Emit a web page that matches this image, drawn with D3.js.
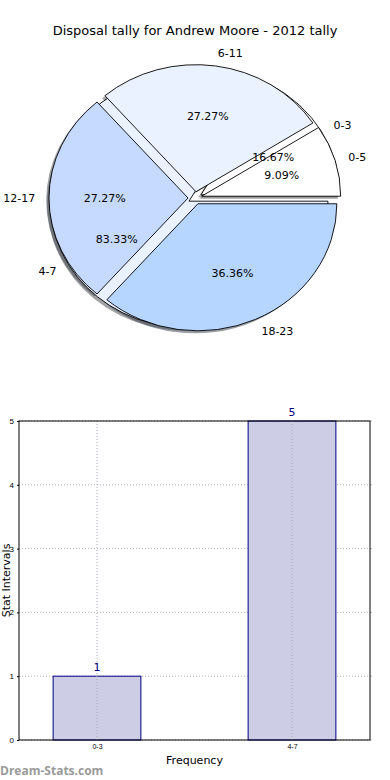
<!DOCTYPE html>
<html>
<head>
<meta charset="utf-8">
<script src="https://cdn.jsdelivr.net/npm/d3@7"></script>
<style>
  body { margin: 0; background: #fff; }
  svg { display: block; font-family: "DejaVu Sans", sans-serif; }
</style>
</head>
<body>
<svg id="chart" width="390" height="780"></svg>
<script>
// pie data (two pies drawn on top of each other, like the source)
const pieTitle = 'Disposal tally for Andrew Moore - 2012 tally';
const freqLabels = ['0-3', '4-7'];
const freqValues = [1, 5];
const freqColors = ['#ffffff', '#ebf2ff'];
const statLabels = ['0-5', '6-11', '12-17', '18-23'];
const statValues = [1, 3, 3, 4];
const statColors = ['#ffffff', '#ebf2ff', '#c6d9ff', '#b6d6ff'];

// bar data
const barCats = ['0-3', '4-7'];
const barValues = [1, 5];
const yTicks = [0, 1, 2, 3, 4, 5];

const svg = d3.select('#chart');

// ---------- pie ----------
const cx = 195, cy = 198, rx = 139, ry = 127;
const explode = 0.05;

svg.append('text')
  .attr('x', 195).attr('y', 35)
  .attr('text-anchor', 'middle')
  .style('font-size', '13px')
  .text(pieTitle);

// matplotlib starts at 3 o'clock and goes counter-clockwise
const pie = d3.pie().sort(null)
  .startAngle(Math.PI / 2)
  .endAngle(Math.PI / 2 - 2 * Math.PI);
const arc = d3.arc().innerRadius(0).outerRadius(1);

function midTheta(d) {
  // back to the math angle (radians, counter-clockwise from east)
  return Math.PI / 2 - (d.startAngle + d.endAngle) / 2;
}

function wedgeTransform(d, dx, dy) {
  const t = midTheta(d);
  return `translate(${cx + dx},${cy + dy}) scale(${rx},${ry}) translate(${explode * Math.cos(t)},${-explode * Math.sin(t)})`;
}

const pies = [
  { values: freqValues, labels: freqLabels, colors: freqColors },
  { values: statValues, labels: statLabels, colors: statColors }
];
pies.forEach(p => { p.arcs = pie(p.values); });

const gPie = svg.append('g');

// shadows sit below every wedge
pies.forEach(p => {
  gPie.selectAll(null)
    .data(p.arcs)
    .enter()
    .append('path')
    .attr('d', arc)
    .attr('transform', d => wedgeTransform(d, -0.02 * rx, 0.02 * ry))
    .attr('fill', (d, i) => {
      const c = d3.rgb(p.colors[i]);
      return d3.rgb(c.r * 0.3, c.g * 0.3, c.b * 0.3);
    })
    .attr('opacity', 0.5);
});

pies.forEach(p => {
  gPie.selectAll(null)
    .data(p.arcs)
    .enter()
    .append('path')
    .attr('d', arc)
    .attr('transform', d => wedgeTransform(d, 0, 0))
    .attr('fill', (d, i) => p.colors[i])
    .attr('stroke', '#000')
    .attr('stroke-width', 0.9)
    .attr('vector-effect', 'non-scaling-stroke');
});

pies.forEach(p => {
  const total = d3.sum(p.values);
  p.arcs.forEach((d, i) => {
    const t = midTheta(d);
    const c = Math.cos(t), s = Math.sin(t);
    const lx = cx + (explode + 1.1) * rx * c;
    const ly = cy - (explode + 1.1) * ry * s;
    gPie.append('text')
      .attr('x', lx).attr('y', ly)
      .attr('dy', '0.35em')
      .attr('text-anchor', c > 0 ? 'start' : 'end')
      .style('font-size', '11px')
      .text(p.labels[i]);
    gPie.append('text')
      .attr('x', cx + (explode + 0.6) * rx * c)
      .attr('y', cy - (explode + 0.6) * ry * s)
      .attr('dy', '0.35em')
      .attr('text-anchor', 'middle')
      .style('font-size', '11px')
      .text((d.data / total * 100).toFixed(2) + '%');
  });
});

// ---------- bar chart ----------
const margin = { left: 19, right: 370, top: 421, bottom: 740 };

const x = d3.scaleLinear().domain([-0.4, 1.4]).range([margin.left, margin.right]);
const y = d3.scaleLinear().domain([0, 5]).range([margin.bottom, margin.top]);
const barW = 0.45;

const gBar = svg.append('g');

// grid
gBar.selectAll('.hgrid')
  .data(yTicks)
  .enter()
  .append('line')
  .attr('x1', margin.left).attr('x2', margin.right)
  .attr('y1', d => y(d)).attr('y2', d => y(d))
  .attr('stroke', '#b0b0b0')
  .attr('stroke-dasharray', '1,2');

gBar.selectAll('.bar')
  .data(barValues)
  .enter()
  .append('rect')
  .attr('x', (d, i) => x(i - barW / 2))
  .attr('width', x(barW) - x(0))
  .attr('y', d => y(d))
  .attr('height', d => y(0) - y(d))
  .attr('fill', '#cdcde6')
  .attr('stroke', '#000080')
  .attr('stroke-width', 1);

gBar.selectAll('.vgrid')
  .data(barCats)
  .enter()
  .append('line')
  .attr('x1', (d, i) => x(i)).attr('x2', (d, i) => x(i))
  .attr('y1', margin.top).attr('y2', margin.bottom)
  .attr('stroke', '#a8a8b8')
  .attr('stroke-dasharray', '1,2');

// value labels
gBar.selectAll('.val')
  .data(barValues)
  .enter()
  .append('text')
  .attr('x', (d, i) => x(i))
  .attr('y', d => y(d) - 5)
  .attr('text-anchor', 'middle')
  .attr('fill', '#000080')
  .style('font-size', '11px')
  .text(d => d);

// axes
const yAxis = d3.axisLeft(y).tickValues(yTicks).tickFormat(d3.format('d')).tickSize(2).tickPadding(3);
const gy = gBar.append('g')
  .attr('transform', `translate(${margin.left},0)`)
  .call(yAxis);
gy.select('.domain').remove();
gy.selectAll('text').style('font-size', '8px').attr('fill', '#000');

const xAxis = d3.axisBottom(x).tickValues([0, 1]).tickFormat((d, i) => barCats[i]).tickSize(0).tickPadding(4);
const gx = gBar.append('g')
  .attr('transform', `translate(0,${margin.bottom})`)
  .call(xAxis);
gx.select('.domain').remove();
gx.selectAll('text').style('font-size', '7px').attr('fill', '#000');

// right side tick stubs
gBar.selectAll('.rtick')
  .data(yTicks)
  .enter()
  .append('line')
  .attr('x1', margin.right).attr('x2', margin.right + 2)
  .attr('y1', d => y(d)).attr('y2', d => y(d))
  .attr('stroke', '#bbb');

gBar.append('rect')
  .attr('x', margin.left).attr('y', margin.top)
  .attr('width', margin.right - margin.left)
  .attr('height', margin.bottom - margin.top)
  .attr('fill', 'none')
  .attr('stroke', '#000')
  .attr('stroke-width', 1);

gBar.append('text')
  .attr('x', (margin.left + margin.right) / 2)
  .attr('y', 764)
  .attr('text-anchor', 'middle')
  .style('font-size', '11px')
  .text('Frequency');

gBar.append('text')
  .attr('transform', `translate(10,${(margin.top + margin.bottom) / 2}) rotate(-90)`)
  .attr('text-anchor', 'middle')
  .style('font-size', '11px')
  .text('Stat Intervals');

svg.append('text')
  .attr('x', 0).attr('y', 775)
  .attr('fill', '#9a9a9a')
  .style('font-size', '12px')
  .style('font-weight', 'bold')
  .style('font-family', '"Open Sans", sans-serif')
  .text('Dream-Stats.com');
</script>
</body>
</html>
